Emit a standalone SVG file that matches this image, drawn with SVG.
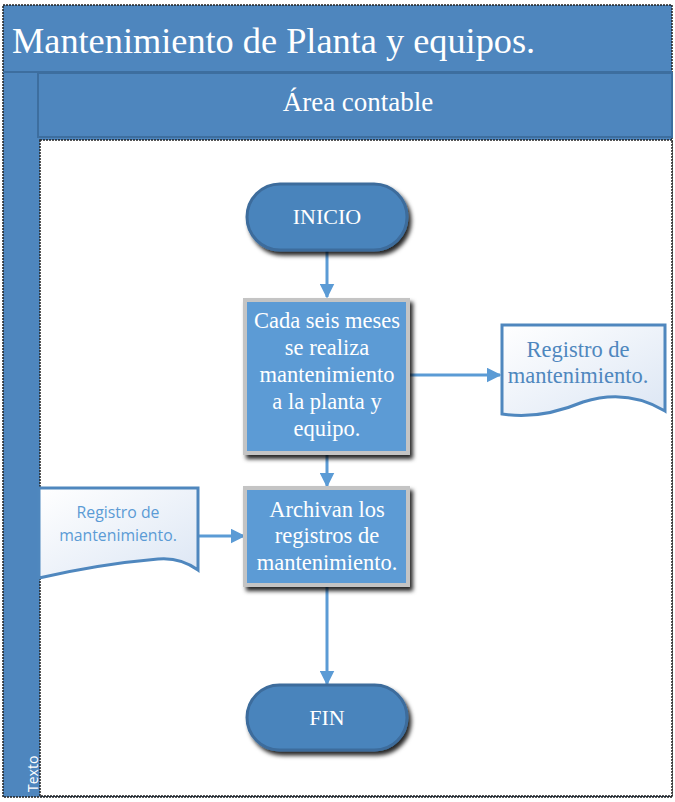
<svg xmlns="http://www.w3.org/2000/svg" width="675" height="802" viewBox="0 0 675 802">
<defs>
<style>
.serif{font-family:"Liberation Serif","Times New Roman",serif;}
.sans{font-family:"Open Sans","Liberation Sans",Arial,sans-serif;}
.wt{fill:#ffffff;text-anchor:middle;}
.term{fill:#4A84BC;stroke:#3C6C9C;stroke-width:3;}
.proc{fill:#5B9BD5;stroke:#C4C4C4;stroke-width:4;}
.doc{fill:url(#dg);stroke:#4F87BE;stroke-width:3;}
.con{stroke:#5B9BD5;stroke-width:3;fill:none;}
</style>
<linearGradient id="dg" x1="0" y1="0" x2="1" y2="1">
<stop offset="0" stop-color="#ffffff"/>
<stop offset="1" stop-color="#DCE6F4"/>
</linearGradient>
<filter id="sh" x="-10%" y="-10%" width="130%" height="140%">
<feDropShadow dx="3" dy="4" stdDeviation="2" flood-color="#000" flood-opacity="0.85"/>
</filter>
<marker id="ar" viewBox="0 0 10 10" refX="9" refY="5" markerWidth="5" markerHeight="5" orient="auto" markerUnits="strokeWidth">
<path d="M0,0 L10,5 L0,10 Z" fill="#5B9BD5"/>
</marker>
</defs>

<g id="pool">
<rect x="3" y="5" width="669" height="792" fill="#4E86BE" stroke="#222" stroke-width="1.5" stroke-dasharray="2 1"/>
<line x1="3" y1="72" x2="672" y2="72" stroke="#3D6E9F" stroke-width="2"/>
<text x="12" y="53" class="serif" font-size="36.3" fill="#ffffff">Mantenimiento de Planta y equipos.</text>
</g>

<g id="lane">
<rect x="38" y="73" width="634" height="64" fill="#4E86BE" stroke="#3D6E9F" stroke-width="2"/>
<text x="358" y="111" class="serif wt" font-size="27">Área contable</text>
<rect x="40" y="140" width="632" height="656" fill="#ffffff" stroke="#222" stroke-width="1.5" stroke-dasharray="2 1"/>
<text transform="translate(38,792) rotate(-90)" class="sans" font-size="14" fill="#ffffff">Texto</text>
</g>

<g id="connectors">
<line class="con" x1="327" y1="251" x2="327" y2="297" marker-end="url(#ar)"/>
<line class="con" x1="408" y1="375" x2="500" y2="375" marker-end="url(#ar)"/>
<line class="con" x1="327" y1="455" x2="327" y2="486" marker-end="url(#ar)"/>
<line class="con" x1="199" y1="536" x2="244" y2="536" marker-end="url(#ar)"/>
<line class="con" x1="327" y1="587" x2="327" y2="684" marker-end="url(#ar)"/>
</g>

<g id="inicio">
<rect class="term" x="247" y="184" width="160" height="66" rx="33" filter="url(#sh)"/>
<text x="327" y="224" class="serif wt" font-size="22">INICIO</text>
</g>

<g id="proceso1">
<rect class="proc" x="245" y="300" width="163" height="153" filter="url(#sh)"/>
<g class="serif wt" font-size="22.5">
<text x="327" y="328">Cada seis meses</text>
<text x="327" y="355">se realiza</text>
<text x="327" y="382">mantenimiento</text>
<text x="327" y="409">a la planta y</text>
<text x="327" y="436">equipo.</text>
</g>
</g>

<g id="doc-derecha">
<path class="doc" d="M502,325 L665,325 L665,411 Q627,388 583,402 Q540,420 502,414 Z"/>
<g class="serif" font-size="22.5" fill="#4F87BE" text-anchor="middle">
<text x="578" y="357">Registro de</text>
<text x="578" y="383">mantenimiento.</text>
</g>
</g>

<g id="doc-izquierda">
<path class="doc" d="M39,488 L198,488 L198,570 Q180,557 158,559 Q100,564 39,578 Z" stroke-width="2"/>
<g class="sans" font-size="15.8" fill="#5B9BD5" text-anchor="middle">
<text x="118" y="518">Registro de</text>
<text x="118" y="541">mantenimiento.</text>
</g>
</g>

<g id="proceso2">
<rect class="proc" x="245" y="488" width="163" height="97" filter="url(#sh)"/>
<g class="serif wt" font-size="22.5">
<text x="327" y="517">Archivan los</text>
<text x="327" y="543">registros de</text>
<text x="327" y="570">mantenimiento.</text>
</g>
</g>

<g id="fin">
<rect class="term" x="247" y="685" width="160" height="65" rx="32.5" filter="url(#sh)"/>
<text x="327" y="725" class="serif wt" font-size="22">FIN</text>
</g>
</svg>
